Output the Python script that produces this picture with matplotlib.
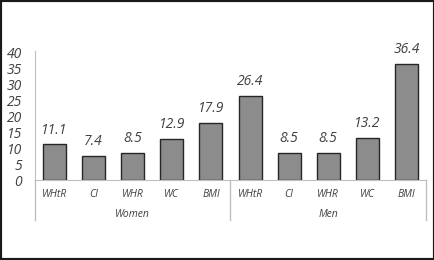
import matplotlib.pyplot as plt
from matplotlib.patches import Rectangle

# Data
groups = ["Women", "Men"]
categories = ["WHtR", "CI", "WHR", "WC", "BMI"]
women_values = [11.1, 7.4, 8.5, 12.9, 17.9]
men_values = [26.4, 8.5, 8.5, 13.2, 36.4]
y_ticks = [0, 5, 10, 15, 20, 25, 30, 35, 40]

plt.rcParams['font.family'] = ['Open Sans', 'DejaVu Sans']
TEXT = '#404040'
GRID = '#bfbfbf'

fig = plt.figure(figsize=(4.35, 2.6), dpi=100)
fig.patches.append(Rectangle((0, 0), 1, 1, transform=fig.transFigure,
                             fill=False, edgecolor='#1a1a1a', linewidth=3))
ax = fig.add_axes([35 / 435, 1 - 180 / 260, (426 - 35) / 435, 128 / 260])

values = women_values + men_values
labels = categories + categories
x = list(range(len(values)))
bars = ax.bar(x, values, width=0.59, color='#8c8c8c', edgecolor='#262626', linewidth=1.0)

for xi, v in zip(x, values):
    ax.annotate(f"{v:.1f}", (xi, v), xytext=(0, 5), textcoords='offset points',
                ha='center', va='bottom', fontsize=10, style='italic', color=TEXT)

ax.set_xlim(-0.5, len(values) - 0.5)
ax.set_ylim(0, 40)
ax.set_yticks(y_ticks)
ax.set_yticklabels([str(t) for t in y_ticks], fontsize=10, style='italic', color=TEXT)
ax.tick_params(axis='y', length=0, pad=9.5)
ax.set_xticks([])

for s in ['top', 'right']:
    ax.spines[s].set_visible(False)
ax.spines['left'].set_color(GRID)
ax.spines['bottom'].set_color(GRID)
ax.spines['left'].set_bounds(0, 40.3)

trans = ax.get_xaxis_transform()
for xi, lab in zip(x, labels):
    ax.text(xi, -0.11, lab, transform=trans, ha='center', va='center',
            fontsize=7.5, style='italic', color=TEXT)

n = len(categories)
for gi, g in enumerate(groups):
    ax.text(gi * n + (n - 1) / 2, -0.27, g, transform=trans, ha='center', va='center',
            fontsize=7.5, style='italic', color=TEXT)
for b in [-0.5, n - 0.5, 2 * n - 0.5]:
    ax.plot([b, b], [0, -0.3125], transform=trans, color=GRID, linewidth=1.0, clip_on=False)

fig.savefig("out.png", dpi=100)
